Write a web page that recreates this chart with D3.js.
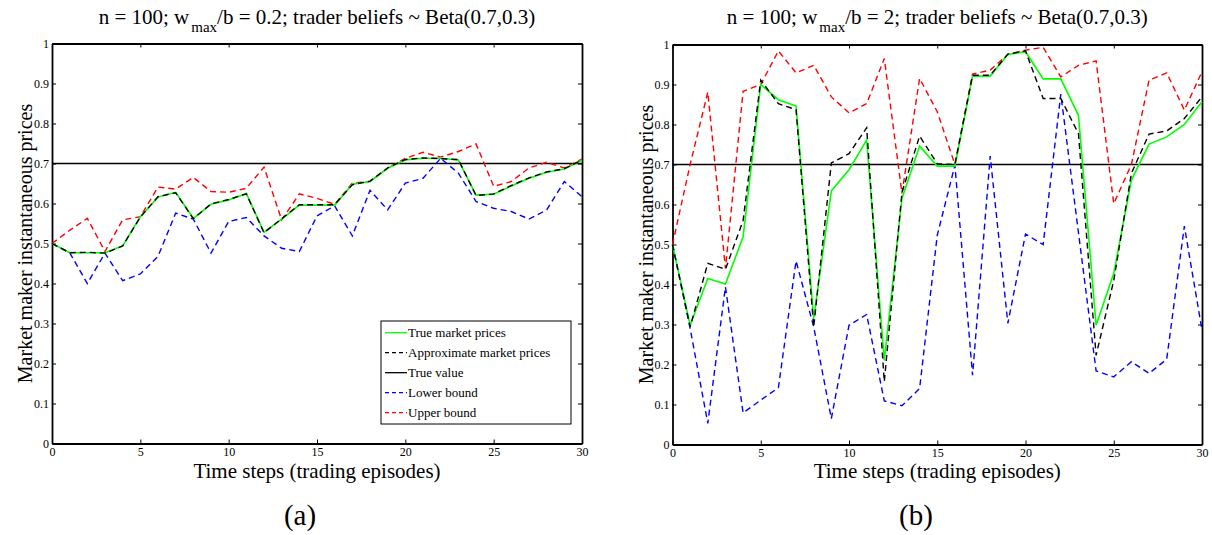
<!DOCTYPE html>
<html lang="en">
<head>
    <meta charset="UTF-8">
    <title>Market maker prices</title>
    <style>
        body {
            margin: 0;
            background-color: #fff;
            font-family: 'Liberation Serif', 'Times New Roman', serif;
        }
        svg text {
            font-family: 'Liberation Serif', 'Times New Roman', serif;
        }
        .axis path, .axis line {
            stroke: #000;
        }
    </style>
</head>
<body>
<svg width="1212" height="535" id="chart"></svg>

<script src="https://d3js.org/d3.v7.min.js"></script>
<script>
    // time steps 0..30
    const steps = d3.range(0, 31);
    const xTicks = [0, 5, 10, 15, 20, 25, 30];
    const yTicks = [0, 0.1, 0.2, 0.3, 0.4, 0.5, 0.6, 0.7, 0.8, 0.9, 1];
    const trueValue = 0.7;

    // panel (a): w_max/b = 0.2
    const trueA = [0.50, 0.477, 0.477, 0.477, 0.494, 0.567, 0.616, 0.628, 0.563, 0.598, 0.609, 0.625, 0.528, 0.561, 0.596, 0.596,
        0.596, 0.648, 0.655, 0.688, 0.709, 0.713, 0.713, 0.709, 0.621, 0.623, 0.644, 0.663, 0.678, 0.686, 0.708];
    const approxA = [0.50, 0.477, 0.478, 0.476, 0.494, 0.566, 0.617, 0.627, 0.562, 0.599, 0.610, 0.624, 0.527, 0.562, 0.597, 0.597,
        0.597, 0.647, 0.656, 0.689, 0.710, 0.714, 0.712, 0.710, 0.620, 0.624, 0.645, 0.664, 0.679, 0.687, 0.709];
    const lowerA = [0.50, 0.477, 0.40, 0.476, 0.407, 0.424, 0.468, 0.576, 0.561, 0.476, 0.555, 0.565, 0.519, 0.488, 0.48, 0.569,
        0.594, 0.519, 0.633, 0.584, 0.651, 0.663, 0.713, 0.676, 0.605, 0.588, 0.58, 0.561, 0.584, 0.655, 0.617];
    const upperA = [0.50, 0.533, 0.563, 0.48, 0.559, 0.567, 0.641, 0.636, 0.665, 0.63, 0.628, 0.638, 0.691, 0.559, 0.624, 0.613,
        0.598, 0.651, 0.655, 0.688, 0.713, 0.728, 0.716, 0.73, 0.749, 0.643, 0.655, 0.689, 0.703, 0.689, 0.711];

    // panel (b): w_max/b = 2
    const trueB = [0.50, 0.298, 0.415, 0.401, 0.519, 0.90, 0.862, 0.846, 0.315, 0.634, 0.687, 0.761, 0.21, 0.615, 0.746, 0.696,
        0.696, 0.921, 0.921, 0.975, 0.982, 0.914, 0.914, 0.823, 0.298, 0.428, 0.661, 0.751, 0.769, 0.80, 0.857];
    const approxB = [0.50, 0.294, 0.453, 0.438, 0.56, 0.911, 0.852, 0.837, 0.294, 0.704, 0.727, 0.792, 0.157, 0.63, 0.771, 0.702,
        0.70, 0.923, 0.923, 0.976, 0.984, 0.865, 0.865, 0.777, 0.223, 0.41, 0.678, 0.776, 0.784, 0.815, 0.869];
    const lowerB = [0.50, 0.29, 0.053, 0.394, 0.079, 0.111, 0.142, 0.459, 0.294, 0.065, 0.298, 0.325, 0.109, 0.097, 0.14, 0.523,
        0.698, 0.173, 0.721, 0.303, 0.526, 0.50, 0.876, 0.53, 0.184, 0.169, 0.207, 0.178, 0.213, 0.546, 0.286];
    const upperB = [0.50, 0.70, 0.881, 0.44, 0.883, 0.90, 0.984, 0.929, 0.948, 0.869, 0.829, 0.852, 0.965, 0.628, 0.915, 0.832,
        0.70, 0.926, 0.936, 0.975, 0.986, 0.993, 0.919, 0.948, 0.959, 0.602, 0.70, 0.911, 0.929, 0.836, 0.932];

    const legendLabels = ["True market prices", "Approximate market prices", "True value", "Lower bound", "Upper bound"];

    const svg = d3.select("#chart");
    const dash = "6,4";

    function styleAxis(a) {
        a.attr("font-family", null).attr("font-size", 12);
        a.selectAll("text").attr("fill", "#000");
        a.select(".domain").attr("stroke-width", 1.8);
    }

    function drawPanel(p) {
        const x = d3.scaleLinear().domain([0, 30]).range([p.left, p.right]);
        const y = d3.scaleLinear().domain([0, 1]).range([p.bottom, p.top]);
        const g = svg.append("g");

        // inward ticks on all four sides, MATLAB style
        g.append("g").attr("class", "axis")
            .attr("transform", `translate(0,${p.bottom})`)
            .call(d3.axisBottom(x).tickValues(xTicks).tickSizeInner(-4).tickSizeOuter(0).tickPadding(4))
            .call(styleAxis);
        g.append("g").attr("class", "axis")
            .attr("transform", `translate(0,${p.top})`)
            .call(d3.axisTop(x).tickValues(xTicks).tickSizeInner(-4).tickSizeOuter(0).tickFormat(""))
            .call(styleAxis);
        g.append("g").attr("class", "axis")
            .attr("transform", `translate(${p.left},0)`)
            .call(d3.axisLeft(y).tickValues(yTicks).tickSizeInner(-4).tickSizeOuter(0).tickPadding(3)
                .tickFormat(d => String(d)))
            .call(styleAxis);
        g.append("g").attr("class", "axis")
            .attr("transform", `translate(${p.right},0)`)
            .call(d3.axisRight(y).tickValues(yTicks).tickSizeInner(-4).tickSizeOuter(0).tickFormat(""))
            .call(styleAxis);

        const line = d3.line().x((d, i) => x(steps[i])).y(d => y(d));

        // true value
        g.append("line")
            .attr("x1", x(0)).attr("x2", x(30))
            .attr("y1", y(trueValue)).attr("y2", y(trueValue))
            .attr("stroke", "#000").attr("stroke-width", 1.4);

        const series = [
            {data: p.lower, color: "#0000ff", dash: dash, w: 1.4},
            {data: p.upper, color: "#ff0000", dash: dash, w: 1.4},
            {data: p.truth, color: "#00ff00", dash: null, w: 1.6},
            {data: p.approx, color: "#000000", dash: dash, w: 1.4}
        ];
        series.forEach(s => {
            g.append("path")
                .datum(s.data)
                .attr("d", line)
                .attr("fill", "none")
                .attr("stroke", s.color)
                .attr("stroke-width", s.w)
                .attr("stroke-dasharray", s.dash);
        });

        // title with subscript
        const cx = (p.left + p.right) / 2;
        const title = g.append("text")
            .attr("x", cx).attr("y", 24)
            .attr("text-anchor", "middle")
            .attr("font-size", 21);
        title.append("tspan").text("n = 100; w");
        title.append("tspan").attr("font-size", 15).attr("dy", 8).attr("dx", 2).text("max");
        title.append("tspan").attr("dy", -8).text(p.ratio + "; trader beliefs ~ Beta(0.7,0.3)");

        g.append("text")
            .attr("x", cx).attr("y", 478)
            .attr("text-anchor", "middle")
            .attr("font-size", 21)
            .text("Time steps (trading episodes)");

        g.append("text")
            .attr("transform", `translate(${p.left - 20},${(p.top + p.bottom) / 2}) rotate(-90)`)
            .attr("text-anchor", "middle")
            .attr("font-size", 20)
            .text("Market maker instantaneous prices");

        g.append("text")
            .attr("x", p.captionX).attr("y", 525)
            .attr("text-anchor", "middle")
            .attr("font-size", 29)
            .text(p.caption);

        if (p.legend) {
            const lg = g.append("g").attr("transform", "translate(381,321)");
            lg.append("rect")
                .attr("width", 190).attr("height", 103)
                .attr("fill", "#fff").attr("stroke", "#000").attr("stroke-width", 1);
            const items = [
                {color: "#00ff00", dash: null},
                {color: "#000000", dash: "4,3"},
                {color: "#000000", dash: null},
                {color: "#0000ff", dash: "4,3"},
                {color: "#ff0000", dash: "4,3"}
            ];
            items.forEach((it, i) => {
                const ry = 11.7 + i * 20;
                lg.append("line")
                    .attr("x1", 4).attr("x2", 26)
                    .attr("y1", ry).attr("y2", ry)
                    .attr("stroke", it.color).attr("stroke-width", 1.3)
                    .attr("stroke-dasharray", it.dash);
                lg.append("text")
                    .attr("x", 27).attr("y", ry + 4.5)
                    .attr("font-size", 13)
                    .text(legendLabels[i]);
            });
        }
    }

    drawPanel({left: 52, right: 582, top: 43.5, bottom: 443.5, ratio: "/b = 0.2",
        truth: trueA, approx: approxA, lower: lowerA, upper: upperA,
        caption: "(a)", captionX: 300, legend: true});
    drawPanel({left: 672.5, right: 1202, top: 44.5, bottom: 444.5, ratio: "/b = 2",
        truth: trueB, approx: approxB, lower: lowerB, upper: upperB,
        caption: "(b)", captionX: 916, legend: false});
</script>
</body>
</html>
